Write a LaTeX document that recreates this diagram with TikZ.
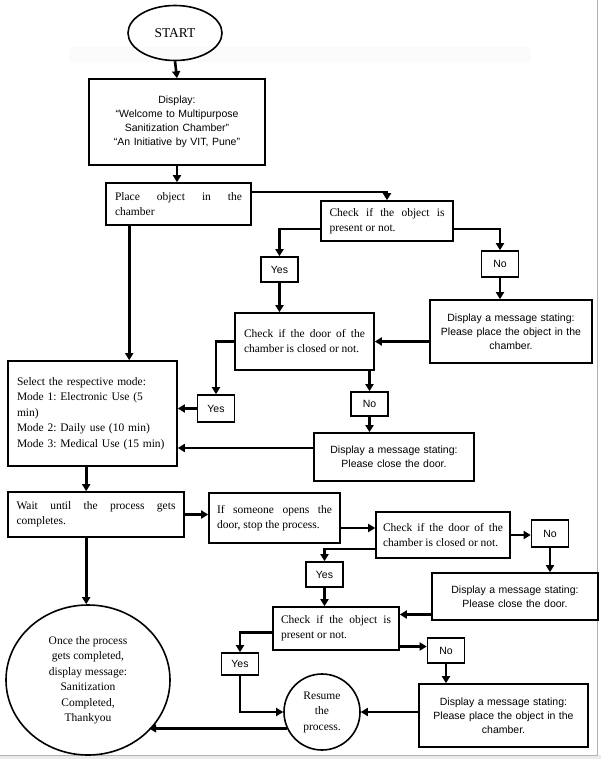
\documentclass[tikz,border=0pt]{standalone}
\usepackage{fontspec}
\setmainfont{Liberation Serif}
\newfontfamily\arialfont{Liberation Sans}
\usetikzlibrary{arrows.meta,shapes.geometric}
\frenchspacing

\begin{document}
\begin{tikzpicture}[x=1pt, y=-1pt,
                    line width=1.6pt,
                    >={Triangle[length=7pt,width=8pt]}]
    \tikzstyle{textbox}=[draw, rectangle, inner sep=0pt, align=justify, font=\fontsize{11.5}{15}\selectfont]
    \tikzstyle{msgbox}=[textbox, align=center, font=\arialfont\fontsize{10.5}{14}\selectfont]
    \tikzstyle{answer}=[msgbox, minimum width=37pt, minimum height=25pt]
    \tikzstyle{terminal}=[draw, ellipse, inner sep=0pt, align=center, font=\fontsize{11.5}{15.5}\selectfont]
    \tikzstyle{flow}=[->, line width=2.6pt]

    \useasboundingbox (0,0) rectangle (601,759);

    % page frame
    \fill[black!1.5] (69,47) rectangle (531,62);
    \fill[black!8] (0,755) rectangle (601,759);
    \draw[black!30, line width=1pt] (597,0) -- (597,755) -- (0,755);

    % first pass
    \node[terminal, minimum width=94pt, minimum height=55pt, font=\fontsize{13.5}{16}\selectfont] (start) at (175,33) {START};
    \node[msgbox, text width=160pt, minimum width=176pt, minimum height=86pt] (welcome) at (177,122)
        {Display:\\“Welcome to Multipurpose\\Sanitization Chamber”\\“An Initiative by VIT, Pune”};
    \node[textbox, text width=127pt, minimum width=145pt, minimum height=42pt] (place) at (178.5,204)
        {Place object in the\linebreak chamber};
    \node[textbox, text width=115pt, minimum width=132pt, minimum height=40pt] (objcheck) at (387,221)
        {Check if the object is\linebreak present or not.};
    \node[answer] (yesobj) at (279.5,269.5) {Yes};
    \node[answer, minimum height=26pt] (noobj) at (500,264) {No};
    \node[msgbox, text width=150pt, minimum width=162pt, minimum height=63pt] (placemsg) at (511,331.5)
        {Display a message stating:\\Please place the object in the\\chamber.};
    \node[textbox, text width=121pt, minimum width=139pt, minimum height=57pt] (doorcheck) at (304.5,341.5)
        {Check if the door of the\linebreak chamber is closed or not.};
    \node[textbox, align=left, text width=151pt, minimum width=169pt, minimum height=105pt,
          font=\fontsize{11.5}{15.5}\selectfont] (mode) at (92.5,413.5)
        {Select the respective mode:\\Mode 1: Electronic Use (5\\min)\\Mode 2: Daily use (10 min)\\Mode 3: Medical Use (15 min)};
    \node[answer, minimum height=27pt] (yesdoor) at (216,408.5) {Yes};
    \node[answer, minimum height=24pt] (nodoor) at (369.5,404) {No};
    \node[msgbox, text width=150pt, minimum width=160pt, minimum height=48pt] (closemsg) at (394,457)
        {Display a message stating:\\Please close the door.};

    % process running
    \node[textbox, text width=159pt, minimum width=176pt, minimum height=45pt] (wait) at (96,514.5)
        {Wait until the process gets\linebreak completes.};
    \node[textbox, text width=115pt, minimum width=131pt, minimum height=50pt] (stop) at (274.5,518)
        {If someone opens the\linebreak door, stop the process.};
    \node[textbox, text width=120pt, minimum width=134pt, minimum height=46pt] (doorrecheck) at (443,535)
        {Check if the door of the\linebreak chamber is closed or not.};
    \node[answer, minimum height=27pt] (nodoorre) at (550,533.5) {No};
    \node[answer] (yesdoorre) at (324.5,574.5) {Yes};
    \node[msgbox, text width=155pt, minimum width=166pt, minimum height=47pt] (closemsgre) at (515,596.5)
        {Display a message stating:\\Please close the door.};
    \node[textbox, text width=110pt, minimum width=126pt, minimum height=43pt] (objrecheck) at (336,628.5)
        {Check if the object is\linebreak present or not.};
    \node[answer, minimum height=22pt] (yesobjre) at (240,664) {Yes};
    \node[answer] (noobjre) at (446,650.5) {No};
    \node[msgbox, text width=155pt, minimum width=169pt, minimum height=63pt] (placemsgre) at (503.5,715.5)
        {Display a message stating:\\Please place the object in the\\chamber.};
    \node[terminal, circle, minimum size=76pt] (resume) at (322,712) {Resume\\the\\process.};
    \node[terminal, minimum width=164pt, minimum height=150pt] (done) at (88,680)
        {Once the process\\gets completed,\\display message:\\Sanitization\\Completed,\\Thankyou};

    % connectors
    \draw[flow] (start.south) -- (welcome.north);
    \draw[flow] (welcome.south) -- (welcome.south |- place.north);
    \draw[flow] ([yshift=12pt]place.east) -| (objcheck.north);
    \draw[flow] ([yshift=-8pt]objcheck.west) -| (yesobj.north);
    \draw[flow] ([yshift=-8pt]objcheck.east) -| (noobj.north);
    \draw[flow] (yesobj.south) -- (yesobj.south |- doorcheck.north);
    \draw[flow] (noobj.south) -- (noobj.south |- placemsg.north);
    \draw[flow] (doorcheck.east -| placemsg.west) -- (doorcheck.east);
    \draw[flow] ([xshift=24pt]place.south west) -- ([xshift=24pt]place.south west |- mode.north);
    \draw[flow] (doorcheck.west) -| (yesdoor.north);
    \draw[flow] (yesdoor.west) -- (yesdoor.west -| mode.east);
    \draw[flow] (nodoor.north |- doorcheck.south) -- (nodoor.north);
    \draw[flow] (nodoor.south) -- (nodoor.south |- closemsg.north);
    \draw[flow] ([yshift=9pt]closemsg.west) -- ([yshift=9pt]closemsg.west -| mode.east);
    \draw[flow] ([xshift=79pt]mode.south west) -- ([xshift=79pt]mode.south west |- wait.north);
    \draw[flow] (wait.east) -- (wait.east -| stop.west);
    \draw[flow] ([yshift=-10pt]stop.east) -- ([yshift=-10pt]stop.east -| doorrecheck.west);
    \draw[flow] (doorrecheck.east) -- (doorrecheck.east -| nodoorre.west);
    \draw[flow] ([yshift=-14pt]doorrecheck.west) -| (yesdoorre.north);
    \draw[flow] (nodoorre.south) -- (nodoorre.south |- closemsgre.north);
    \draw[flow] (yesdoorre.south) -- (yesdoorre.south |- objrecheck.north);
    \draw[flow] ([yshift=-18pt]closemsgre.west) -- ([yshift=-18pt]closemsgre.west -| objrecheck.east);
    \draw[flow] ([yshift=-4pt]objrecheck.west) -| (yesobjre.north);
    \draw[flow] ([yshift=-18pt]objrecheck.east) -- ([yshift=-18pt]objrecheck.east -| noobjre.west);
    \draw[flow] (noobjre.south) -- (noobjre.south |- placemsgre.north);
    \draw[flow] (yesobjre.south) |- (resume.west);
    \draw[flow] (placemsgre.west |- resume.east) -- (resume.east);
    \draw[flow] (resume.205) -- (resume.205 -| done.-40);
    \draw[flow] ([xshift=79pt]wait.south west) -- ([xshift=79pt]wait.south west |- done.north);
\end{tikzpicture}
\end{document}
